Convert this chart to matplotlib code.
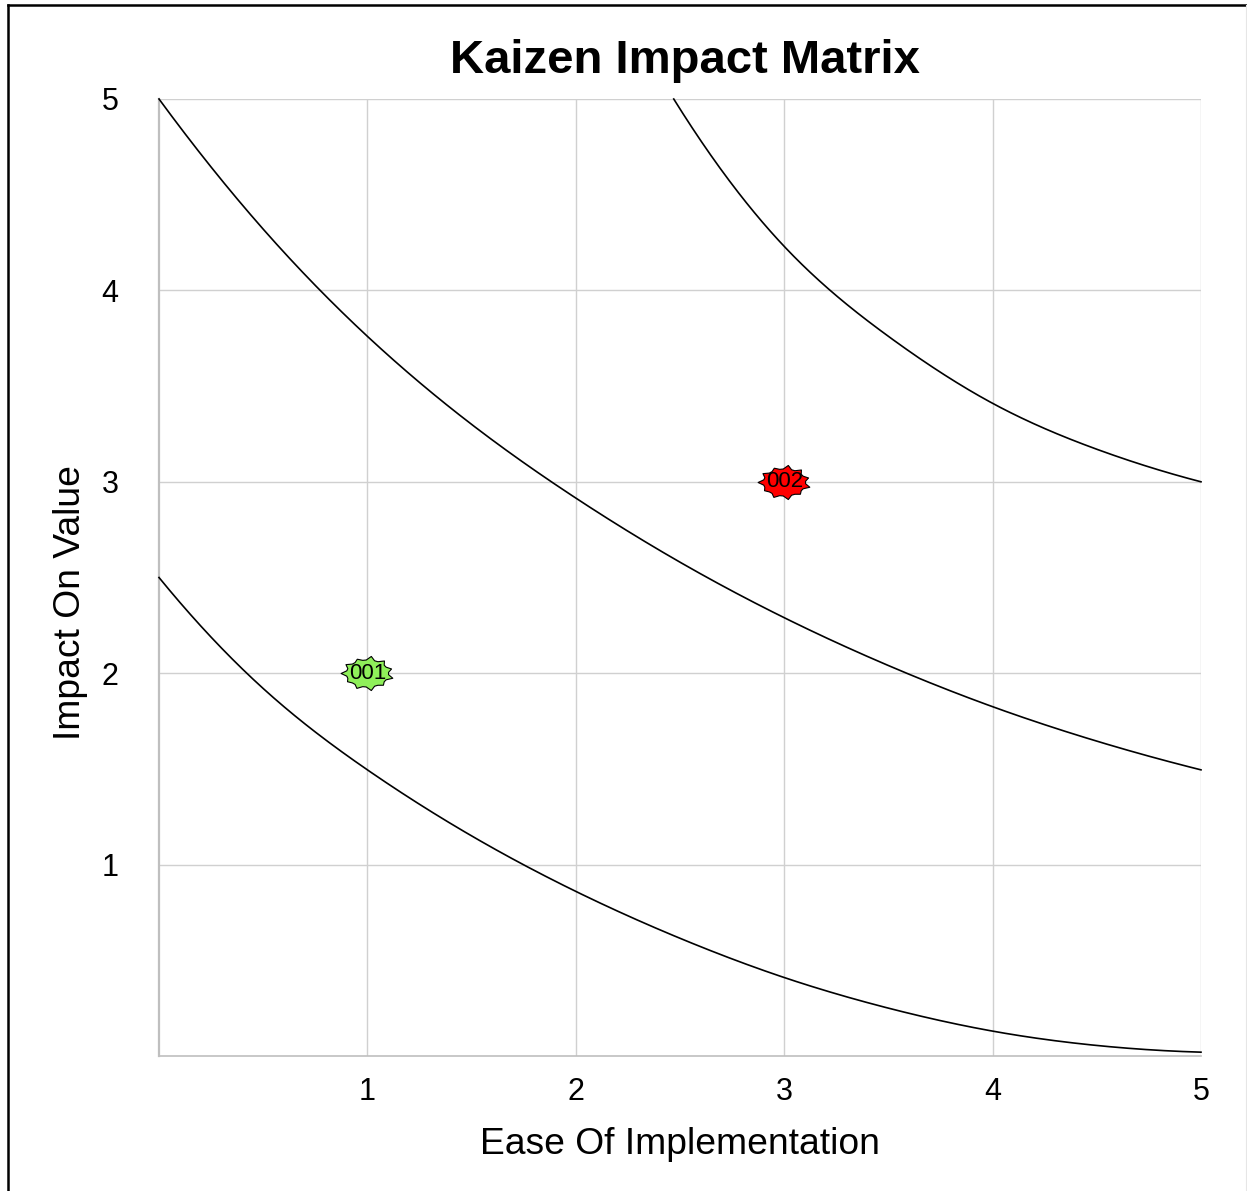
import numpy as np
import matplotlib
matplotlib.use("Agg")
import matplotlib.pyplot as plt
from matplotlib.path import Path
from matplotlib.lines import Line2D

plt.rcParams['font.family'] = ['Liberation Sans', 'DejaVu Sans']

# Threshold curves (ease, impact)
low_x = [0.0, 0.5, 1.0, 1.5, 2.0, 2.5, 3.0, 3.5, 4.0, 4.5, 5.0]
low_y = [2.50, 1.92, 1.495, 1.15, 0.86, 0.615, 0.41, 0.25, 0.13, 0.055, 0.02]

mid_x = [0.0, 0.5, 1.0, 1.5, 2.0, 2.5, 3.0, 3.5, 4.0, 4.5, 5.0]
mid_y = [5.00, 4.32, 3.76, 3.30, 2.915, 2.58, 2.29, 2.04, 1.825, 1.645, 1.495]

high_x = [2.47, 3.0, 3.5, 4.0, 4.5, 5.0]
high_y = [5.00, 4.23, 3.76, 3.41, 3.17, 3.00]

# Kaizen items
item_ids = ["001", "002"]
item_ease = [1, 3]
item_impact = [2, 3]
item_colors = ["#8ff05a", "#ff0000"]

tick_values = [1, 2, 3, 4, 5]


def smooth_spline(xs, ys, n=400):
    """Cubic spline through the points, with parabolic run-out at both ends."""
    x = np.asarray(xs, float)
    y = np.asarray(ys, float)
    m = len(x)
    h = np.diff(x)
    A = np.zeros((m, m))
    r = np.zeros(m)
    A[0, 0], A[0, 1] = 1.0, -1.0
    A[-1, -1], A[-1, -2] = 1.0, -1.0
    for i in range(1, m - 1):
        A[i, i - 1] = h[i - 1]
        A[i, i] = 2 * (h[i - 1] + h[i])
        A[i, i + 1] = h[i]
        r[i] = 6 * ((y[i + 1] - y[i]) / h[i] - (y[i] - y[i - 1]) / h[i - 1])
    M = np.linalg.solve(A, r)
    xx = np.linspace(x[0], x[-1], n)
    k = np.clip(np.searchsorted(x, xx) - 1, 0, m - 2)
    t0 = x[k + 1] - xx
    t1 = xx - x[k]
    hk = h[k]
    yy = (M[k] * t0 ** 3 + M[k + 1] * t1 ** 3) / (6 * hk) \
        + (y[k] / hk - M[k] * hk / 6) * t0 + (y[k + 1] / hk - M[k + 1] * hk / 6) * t1
    return xx, yy


def burst_marker():
    """Irregular explosion-shaped outline."""
    outer = [1.00, 0.90, 0.97, 1.02, 0.92, 1.00, 0.95, 0.98, 1.02, 0.93, 0.97]
    n = len(outer)
    verts = []
    for k in range(n):
        a = 2 * np.pi * k / n + np.pi
        verts.append((outer[k] * np.cos(a), 0.64 * outer[k] * np.sin(a)))
        # two points per notch give a softer concave edge
        for frac, rad in [(0.35, 0.80), (0.65, 0.80)]:
            b = a + 2 * np.pi * frac / n
            verts.append((rad * np.cos(b), 0.64 * rad * np.sin(b)))
    verts.append(verts[0])
    codes = [Path.MOVETO] + [Path.LINETO] * (len(verts) - 2) + [Path.CLOSEPOLY]
    return Path(verts, codes)


W, H = 1247, 1191
fig = plt.figure(figsize=(W / 100, H / 100), dpi=100)
ax = fig.add_axes([159 / W, 1 - 1056 / H, (1201 - 159) / W, (1056 - 99) / H])

ax.set_xlim(0, 5)
ax.set_ylim(0, 5)
ax.set_xticks(tick_values)
ax.set_yticks(tick_values)
ax.set_xticklabels([str(v) for v in tick_values])
ax.set_yticklabels([str(v) for v in tick_values])
ax.tick_params(length=0, labelsize=22)
ax.tick_params(axis='y', pad=29)
ax.tick_params(axis='x', pad=15)
ax.grid(True, color="#d0d0d0", linewidth=1.0)
ax.set_axisbelow(True)
for side in ["top", "right"]:
    ax.spines[side].set_visible(False)
ax.spines["left"].set_color("#bfbfbf")
ax.spines["left"].set_linewidth(1.6)
ax.spines["bottom"].set_color("#bfbfbf")
ax.spines["bottom"].set_linewidth(1.2)

for xs, ys in [(low_x, low_y), (mid_x, mid_y), (high_x, high_y)]:
    sx, sy = smooth_spline(xs, ys)
    ax.plot(sx, sy, color="black", linewidth=1.2, clip_on=False, zorder=3)

marker = burst_marker()
for ident, ex, im, col in zip(item_ids, item_ease, item_impact, item_colors):
    ax.plot([ex], [im], marker=marker, markersize=38, markerfacecolor=col,
            markeredgecolor="black", markeredgewidth=0.8, linestyle="none", zorder=4)
    ax.text(ex, im, ident, ha="center", va="center", fontsize=16, color="black", zorder=5)

fig.text(685 / W, 1 - 61 / H, "Kaizen Impact Matrix", ha="center", va="center",
         fontsize=34, fontweight="bold")
fig.text(680 / W, 1 - 1145 / H, "Ease Of Implementation", ha="center", va="center", fontsize=26.8)
fig.text(70 / W, 1 - 603 / H, "Impact On Value", ha="center", va="center",
         rotation=90, fontsize=26.8)

# Outer frame
fig.add_artist(Line2D([8 / W, 8 / W], [1 - 5 / H, 0], transform=fig.transFigure,
                      color="black", linewidth=1.8))
fig.add_artist(Line2D([8 / W, 1], [1 - 5 / H, 1 - 5 / H], transform=fig.transFigure,
                      color="black", linewidth=1.8))
fig.add_artist(Line2D([1245.5 / W, 1245.5 / W], [1 - 5 / H, 0], transform=fig.transFigure,
                      color="#e6e6e6", linewidth=0.8))

fig.savefig("out.png", dpi=100)
